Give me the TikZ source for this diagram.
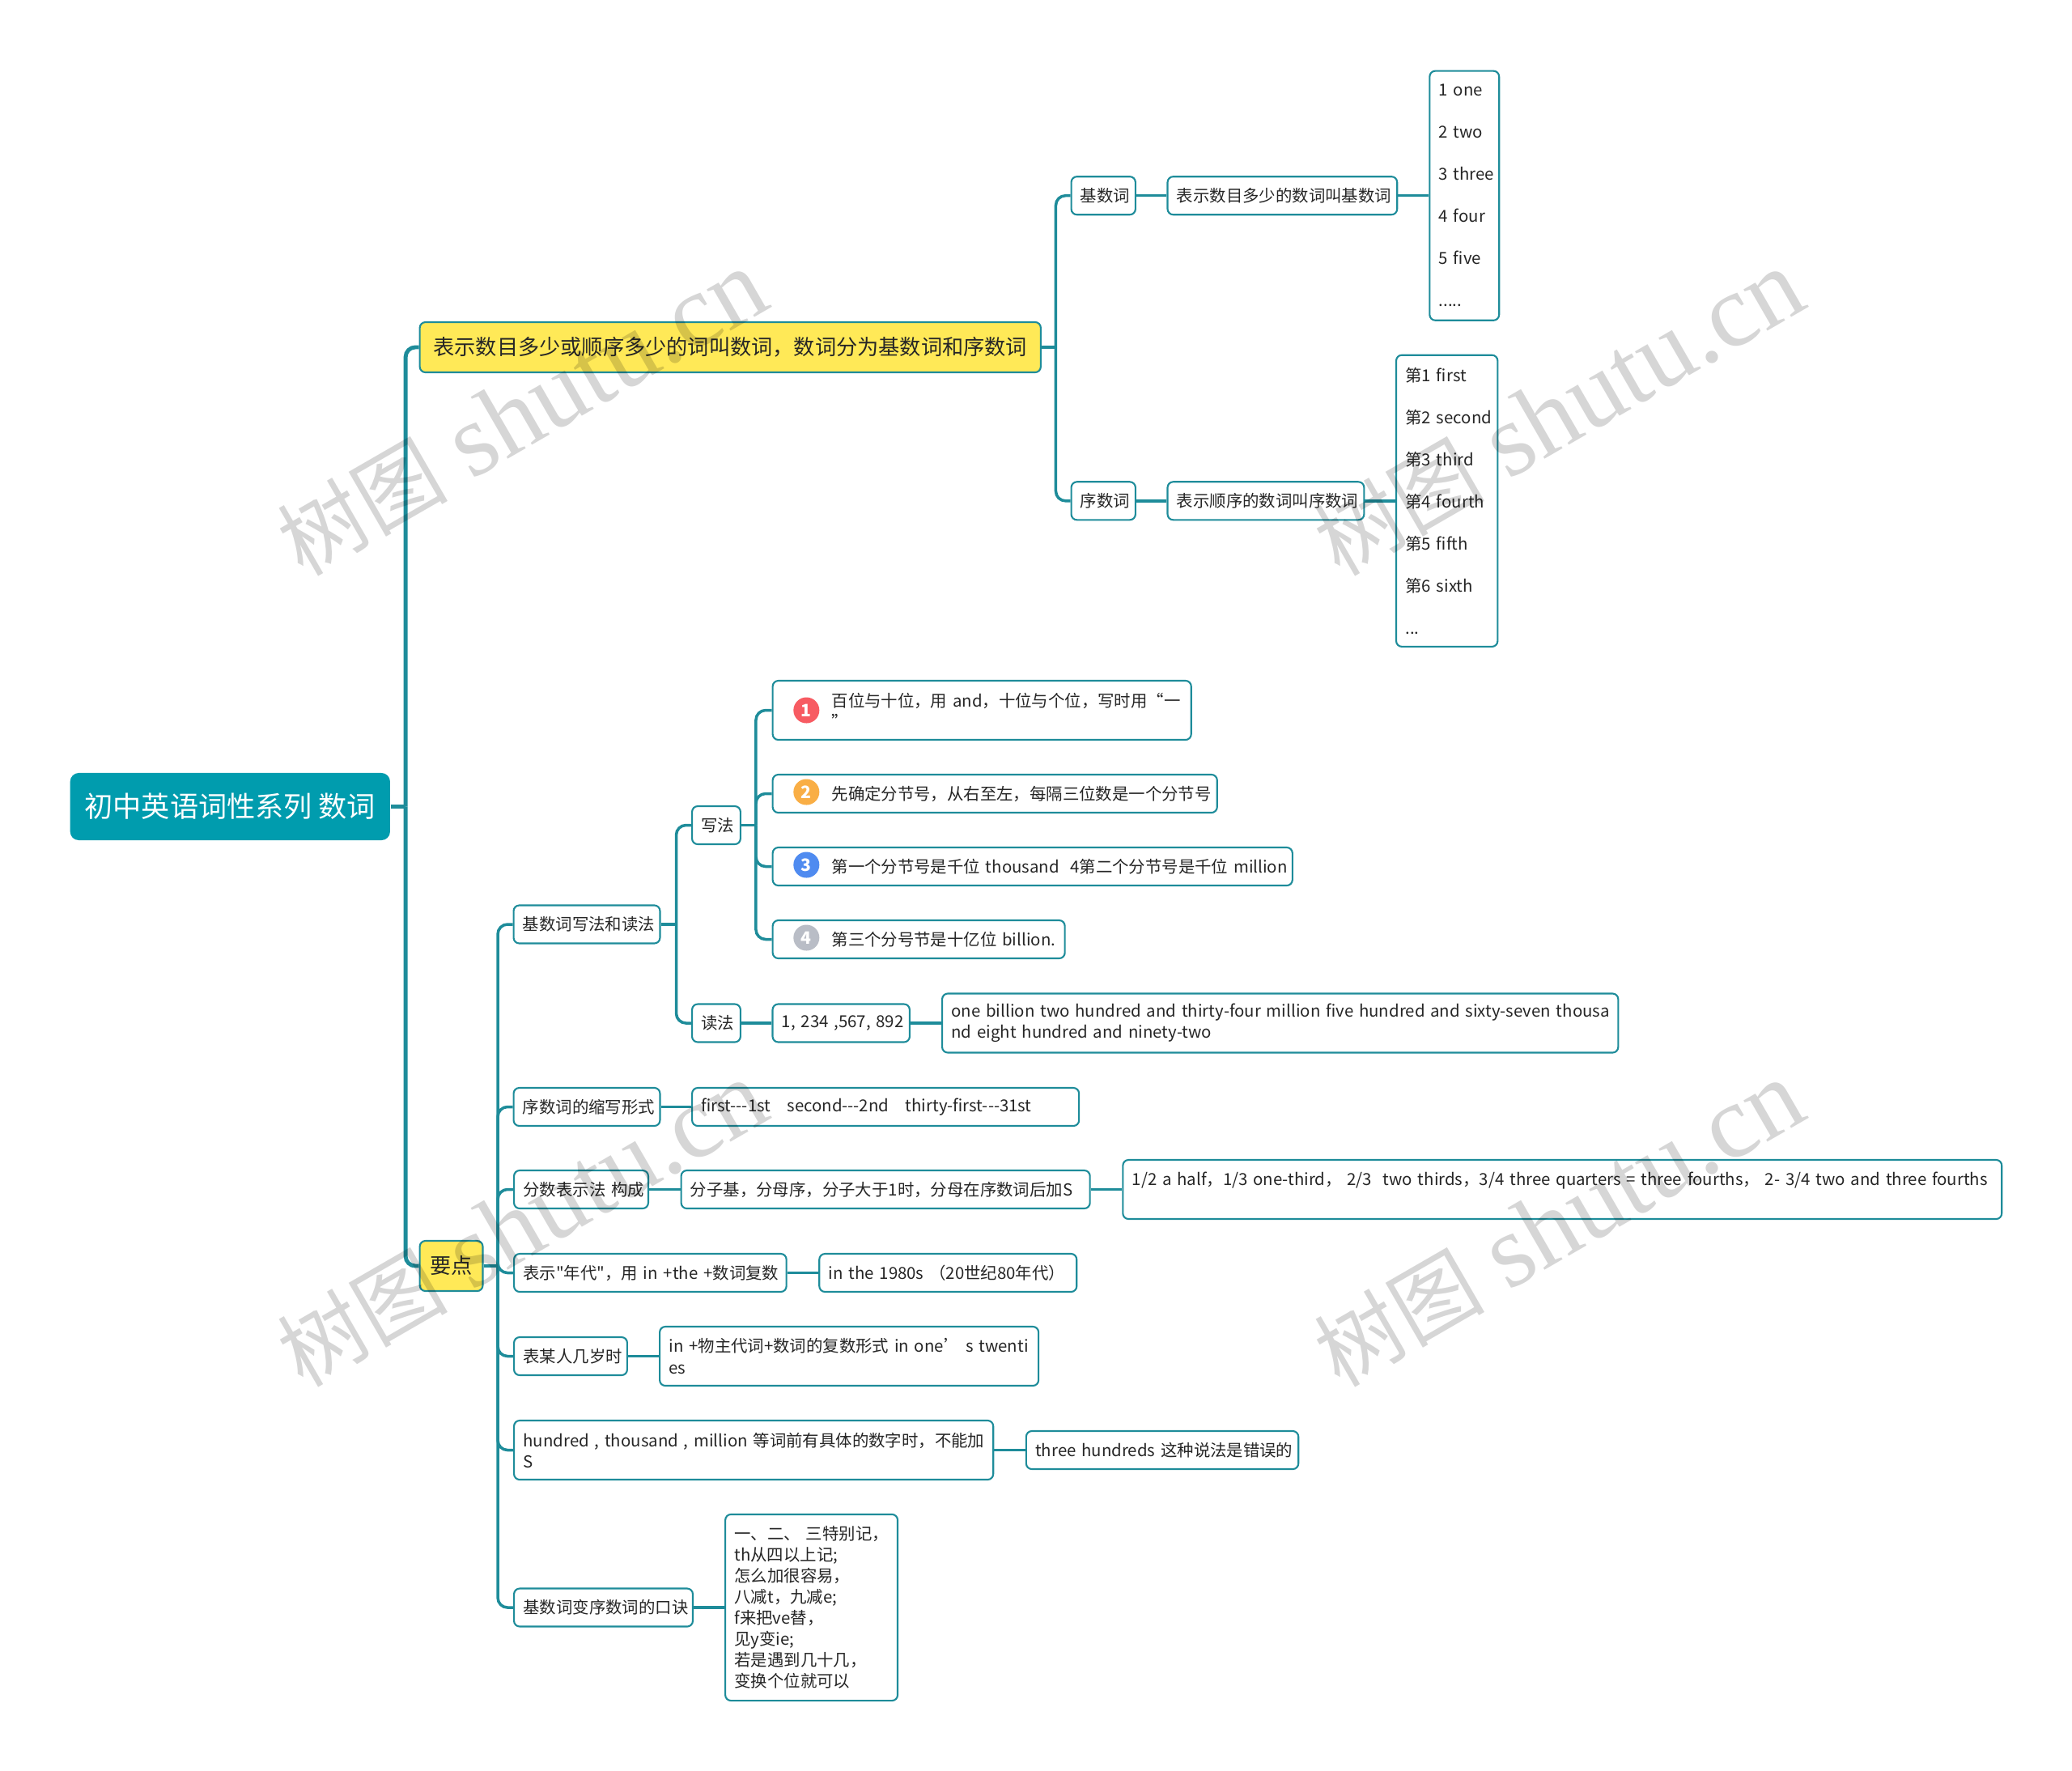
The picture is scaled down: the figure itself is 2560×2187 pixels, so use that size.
\documentclass[tikz,border=0pt]{standalone}
\usepackage{xcolor}
\usepackage{fontspec}
\setmainfont{Noto Sans CJK SC}
\newfontfamily\plainfont{Noto Sans CJK SC}
\newfontfamily\wmfont{Liberation Serif}
\usepackage{tikz}
\usetikzlibrary{positioning}
\definecolor{tealline}{HTML}{1E8C9A}
\definecolor{tealfill}{HTML}{009CAE}
\definecolor{hubfill}{HTML}{FFE957}
\definecolor{badgered}{HTML}{F75B62}
\definecolor{badgeorange}{HTML}{F9AE45}
\definecolor{badgeblue}{HTML}{4F8BF0}
\definecolor{badgegray}{HTML}{B9BDC6}
\newcommand{\badgegap}{\hspace*{17.5pt}}
\newcommand{\stamptext}{{\fontsize{30}{40}\selectfont 树图} {\wmfont shutu.cn}}

\begin{document}
\begin{tikzpicture}[
  x=0.01cm, y=-0.01cm,
  leaf/.style={draw=tealline, line width=0.6pt, rounded corners=2pt, fill=white,
               inner xsep=0.114cm, inner ysep=0pt, minimum height=0.47cm, align=left,
               text=black!85, font=\fontsize{5.8}{7.4}\selectfont},
  boxw/.style={text width=#1cm-0.25cm},
  twoline/.style={minimum height=0.73cm},
  hub/.style={leaf, fill=hubfill, font=\fontsize{7.45}{9}\selectfont, align=center,
              minimum height=0.62cm},
  rootbox/.style={rounded corners=3pt, fill=tealfill, inner sep=0pt, text=white,
                  minimum width=3.95cm, minimum height=0.83cm,
                  font=\fontsize{10}{12}\selectfont},
  listbox/.style={leaf, font=\fontsize{5.8}{14.8}\selectfont},
  badge/.style={circle, inner sep=0pt, minimum size=0.32cm, text=white,
                font=\fontsize{6}{7}\bfseries\selectfont},
  trunk/.style={draw=tealline, line width=1.4pt, rounded corners=3.4pt},
  twig/.style={draw=tealline, line width=1pt, rounded corners=3.4pt},
  stamp/.style={rotate=30, inner sep=0pt, text=black, text opacity=0.16,
                font=\fontsize{36.5}{40}\selectfont}
]
\useasboundingbox (0,0) rectangle (2560,2187);

% Root and the two hubs
\node[rootbox, anchor=west] (root) at (86,996.5) {初中英语词性系列 数词};
\node[hub, boxw=7.69, anchor=west] (meaning) at (517.6,429) {表示数目多少或顺序多少的词叫数词，数词分为基数词和序数词};
\node[hub, boxw=0.80, anchor=west] (points) at (517.6,1564) {要点};

% Upper half
\node[leaf, boxw=0.815, anchor=west] (cardinal) at (1322.5,241.7) {基数词};
\node[leaf, boxw=2.857, right=0.375cm of cardinal] (carddef) {表示数目多少的数词叫基数词};
\node[listbox, boxw=0.88, minimum height=3.08cm, right=0.38cm of carddef] (cardlist) {\mbox{1 one}\\\mbox{2 two}\\\mbox{3 three}\\\mbox{4 four}\\\mbox{5 five}\\.....};
\node[leaf, boxw=0.815, anchor=west] (ordinal) at (1322.5,618.8) {序数词};
\node[leaf, boxw=2.449, right=0.375cm of ordinal] (orddef) {表示顺序的数词叫序数词};
\node[listbox, boxw=1.275, minimum height=3.60cm, right=0.375cm of orddef] (ordlist) {\mbox{第1 first}\\\mbox{第2 second}\\\mbox{第3 third}\\\mbox{第4 fourth}\\\mbox{第5 fifth}\\\mbox{第6 sixth}\\...};

% Lower half, first branch
\node[leaf, boxw=1.83, anchor=west] (writeread) at (633.5,1142) {基数词写法和读法};
\node[leaf, boxw=0.62, anchor=west] (writing) at (854,1019.5) {写法};
\node[leaf, boxw=0.62, anchor=west] (reading) at (854,1264) {读法};
\node[leaf, boxw=5.19, twoline, anchor=west] (stepa) at (953.6,877.5) {\badgegap 百位与十位，用 and，十位与个位，写时用“一\\\badgegap ”};
\node[leaf, boxw=5.51, anchor=west] (stepb) at (953.6,980.5) {\badgegap 先确定分节号，从右至左，每隔三位数是一个分节号};
\node[leaf, boxw=6.44, anchor=west] (stepc) at (953.6,1070.5) {\mbox{\badgegap 第一个分节号是千位 thousand\ \ 4第二个分节号是千位 million}};
\node[leaf, boxw=3.63, anchor=west] (stepd) at (953.6,1160.5) {\badgegap 第三个分号节是十亿位 billion.};
\node[badge, fill=badgered, right=0.26cm of stepa.west] (bada) {1};
\node[badge, fill=badgeorange, right=0.26cm of stepb.west, yshift=0.02cm] (badb) {2};
\node[badge, fill=badgeblue, right=0.26cm of stepc.west, yshift=0.02cm] (badc) {3};
\node[badge, fill=badgegray, right=0.26cm of stepd.west, yshift=0.02cm] (badd) {4};
\node[leaf, boxw=1.715, right=0.375cm of reading] (sample) {\mbox{1, 234 ,567, 892}};
\node[leaf, boxw=8.37, twoline, right=0.38cm of sample] (samplewords) {\mbox{one billion two hundred and thirty-four million five hundred and sixty-seven thousa}\\nd eight hundred and ninety-two};

% Lower half, the other branches
\node[leaf, boxw=1.83, anchor=west] (short) at (633.5,1367.5) {序数词的缩写形式};
\node[leaf, boxw=4.80, right=0.375cm of short] (shortform) {first-{}-{}-1st\ \ \ second-{}-{}-2nd\ \ \ thirty-first-{}-{}-31st};
\node[leaf, boxw=1.68, anchor=west] (fraction) at (634,1469.5) {\mbox{分数表示法 构成}};
\node[leaf, boxw=5.07, right=0.385cm of fraction] (fracrule) {分子基，分母序，分子大于1时，分母在序数词后加S};
\node[leaf, boxw=10.875, twoline, right=0.385cm of fracrule] (fracsample) {\mbox{1/2 a half，1/3 one-third， 2/3\ \ two thirds，3/4 three quarters = three fourths， 2- 3/4 two and three fourths}\\\mbox{}};
\node[leaf, boxw=3.386, anchor=west] (decade) at (634,1572.5) {\mbox{表示{\plainfont "}年代{\plainfont "}，用 in +the +数词复数}};
\node[leaf, boxw=3.20, right=0.385cm of decade] (decadesample) {in the 1980s （20世纪80年代）};
\node[leaf, boxw=1.42, anchor=west] (age) at (634,1675.5) {表某人几岁时};
\node[leaf, boxw=4.70, twoline, right=0.38cm of age] (agerule) {\mbox{in +物主代词+数词的复数形式 in one’ s twenti}\\es};
\node[leaf, boxw=5.94, twoline, anchor=west] (hundred) at (634,1791.5) {\mbox{hundred , thousand , million 等词前有具体的数字时，不能加}\\S};
\node[leaf, boxw=3.384, right=0.385cm of hundred] (hundredsample) {\mbox{three hundreds 这种说法是错误的}};
\node[leaf, boxw=2.23, anchor=west] (rhyme) at (634,1986) {基数词变序数词的口诀};
\node[leaf, boxw=2.15, minimum height=2.30cm, right=0.38cm of rhyme] (rhymetext) {\mbox{一、二、 三特别记，}\\th从四以上记;\\怎么加很容易，\\八减t，九减e;\\f来把ve替，\\见y变ie;\\若是遇到几十几，\\变换个位就可以};

% Junctions
\coordinate[right=0.185cm of root] (rootbus);
\coordinate[right=0.175cm of meaning] (meaningbus);
\coordinate[right=0.175cm of points] (pointsbus);
\coordinate[right=0.19cm of writeread] (wrbus);
\coordinate[right=0.18cm of writing] (stepbus);

% Connectors from the root
\draw[trunk] (root) -- (rootbus);
\draw[trunk] (rootbus) |- (meaning);
\draw[trunk] (rootbus) |- (points);

% Connectors of the upper half
\draw[twig] (meaning) -- (meaningbus);
\draw[twig] (meaningbus) |- (cardinal);
\draw[twig] (meaningbus) |- (ordinal);
\draw[twig] (cardinal) -- (carddef);
\draw[twig] (carddef) -- (cardlist);
\draw[twig] (ordinal) -- (orddef);
\draw[twig] (orddef) -- (ordlist);

% Connectors of the lower half
\draw[twig] (points) -- (pointsbus);
\draw[twig] (pointsbus) |- (writeread);
\draw[twig] (pointsbus) |- (short);
\draw[twig] (pointsbus) |- (fraction);
\draw[twig] (pointsbus) |- (decade);
\draw[twig] (pointsbus) |- (age);
\draw[twig] (pointsbus) |- (hundred);
\draw[twig] (pointsbus) |- (rhyme);
\draw[twig] (writeread) -- (wrbus);
\draw[twig] (wrbus) |- (writing);
\draw[twig] (wrbus) |- (reading);
\draw[twig] (writing) -- (stepbus);
\draw[twig] (stepbus) |- (stepa);
\draw[twig] (stepbus) |- (stepb);
\draw[twig] (stepbus) |- (stepc);
\draw[twig] (stepbus) |- (stepd);
\draw[twig] (reading) -- (sample);
\draw[twig] (sample) -- (samplewords);
\draw[twig] (short) -- (shortform);
\draw[twig] (fraction) -- (fracrule);
\draw[twig] (fracrule) -- (fracsample);
\draw[twig] (decade) -- (decadesample);
\draw[twig] (age) -- (agerule);
\draw[twig] (hundred) -- (hundredsample);
\draw[twig] (rhyme) -- (rhymetext);

% Watermarks
\node[stamp] (stampa) at (645,511) {\stamptext};
\node[stamp] (stampb) at (1926,511) {\stamptext};
\node[stamp] (stampc) at (645,1513) {\stamptext};
\node[stamp] (stampd) at (1926,1513) {\stamptext};

\end{tikzpicture}
\end{document}
